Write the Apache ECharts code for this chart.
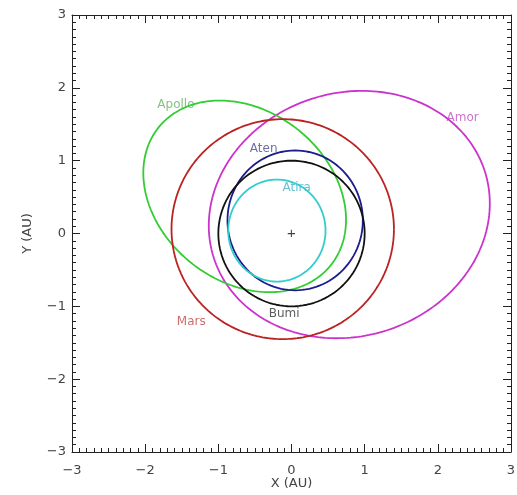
<!DOCTYPE html>
<html>
<head>
<meta charset="utf-8">
<script src="https://cdn.jsdelivr.net/npm/echarts@6/dist/echarts.min.js"></script>
<style>
  html, body { margin: 0; padding: 0; background: #fff; }
  #main { width: 517px; height: 495px; }
</style>
</head>
<body>
<div id="main"></div>
<script>
// orbit ellipses (AU): centre, semi-axes, tilt (deg)
var orbitNames = ['Amor', 'Apollo', 'Mars', 'Aten', 'Bumi', 'Atira'];
var orbitCx    = [0.79, -0.64, -0.12, 0.05, 0.00, -0.20];
var orbitCy    = [0.26,  0.51,  0.06, 0.18, 0.00,  0.04];
var orbitRa    = [1.945, 1.51,  1.52, 0.925, 1.00, 0.665];
var orbitRb    = [1.67,  1.17,  1.51, 0.96, 1.00, 0.70];
var orbitTilt  = [18,    141,   0,    0,    0,    0];
var orbitColor = ['#cc33cc', '#33cc33', '#bb2222', '#1c1c8c', '#111111', '#33cccc'];

// where the names are written
var labelText  = ['Apollo', 'Aten', 'Atira', 'Amor', 'Mars', 'Bumi'];
var labelX     = [-1.58, -0.38, 0.07, 2.34, -1.37, -0.10];
var labelY     = [1.77, 1.16, 0.62, 1.59, -1.21, -1.10];
var labelColor = ['#66b366', '#4a4a8c', '#44b0c8', '#c050c0', '#c04848', '#333333'];

function ellipse(i) {
    var pts = [];
    var t0 = orbitTilt[i] * Math.PI / 180;
    for (var k = 0; k <= 240; k++) {
        var t = k / 240 * 2 * Math.PI;
        var u = orbitRa[i] * Math.cos(t), v = orbitRb[i] * Math.sin(t);
        pts.push([orbitCx[i] + u * Math.cos(t0) - v * Math.sin(t0),
                  orbitCy[i] + u * Math.sin(t0) + v * Math.cos(t0)]);
    }
    return pts;
}

var myChart = echarts.init(document.getElementById('main'));

function fmt(v) { return String(v).replace('-', '\u2212'); }

function axis(pos, withLabel, name) {
    var a = {
        type: 'value', position: pos, min: -3, max: 3, interval: 1,
        axisLine: { show: true, onZero: false, lineStyle: { color: '#222', width: 1 } },
        axisTick: { show: true, inside: true, length: 8, lineStyle: { color: '#222' } },
        minorTick: { show: true, splitNumber: 10, length: 4, lineStyle: { color: '#222' } },
        splitLine: { show: false },
        axisLabel: { show: withLabel, formatter: fmt, fontSize: 13, color: '#444',
                     fontFamily: 'DejaVu Sans' }
    };
    if (name) {
        a.name = name;
        a.nameLocation = 'middle';
        a.nameMoveOverlap = false;
        a.nameTextStyle = { fontSize: 13, color: '#444', fontFamily: 'DejaVu Sans' };
    }
    return a;
}

var xb = axis('bottom', true, 'X (AU)'); xb.nameGap = 25; xb.axisLabel.margin = 12;
var xt = axis('top', false);
var yl = axis('left', true, 'Y (AU)'); yl.nameGap = 38; yl.axisLabel.margin = 6;
var yr = axis('right', false);

var series = [];
for (var i = 0; i < orbitNames.length; i++) {
    series.push({
        name: orbitNames[i], type: 'line', data: ellipse(i),
        showSymbol: false, smooth: false, silent: true,
        lineStyle: { color: orbitColor[i], width: 1.8 }
    });
}
series.push({
    type: 'scatter', symbolSize: 0, silent: true,
    data: labelText.map(function (t, i) {
        return { name: t, value: [labelX[i], labelY[i]],
                 label: { color: labelColor[i] } };
    }),
    label: { show: true, position: 'inside', formatter: '{b}', fontSize: 12,
             fontFamily: 'DejaVu Sans' }
});
series.push({
    type: 'scatter', symbolSize: 0, silent: true,
    data: [{ name: '+', value: [0, 0] }],
    label: { show: true, position: 'inside', formatter: '{b}', fontSize: 15, color: '#111' }
});

var option = {
    animation: false,
    grid: { left: 72, right: 6, top: 15, bottom: 43, outerBoundsMode: 'none' },
    xAxis: [xb, xt],
    yAxis: [yl, yr],
    series: series
};
myChart.setOption(option);
</script>
</body>
</html>
